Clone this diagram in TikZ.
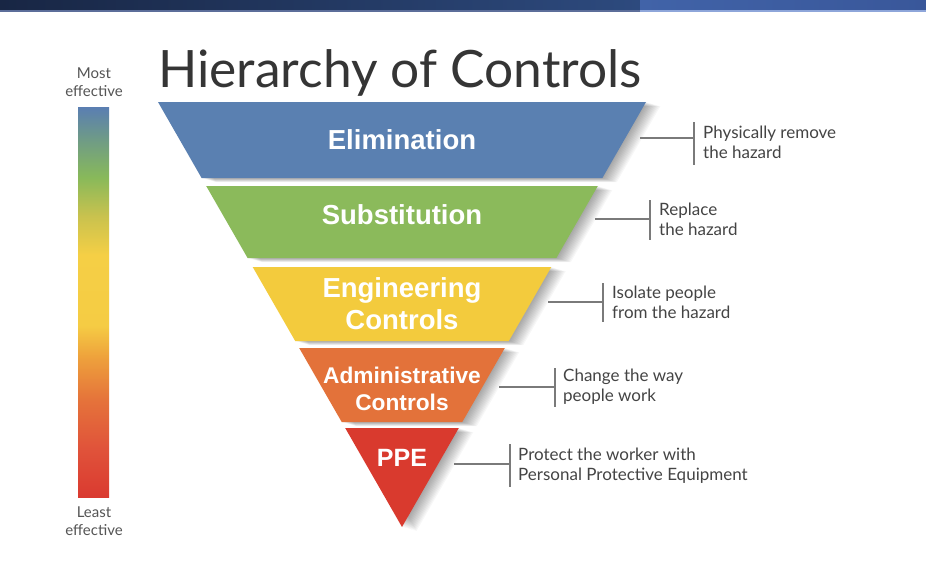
\documentclass[tikz,border=0pt]{standalone}
\usepackage{fontspec}
\setmainfont{Lato}
\newfontfamily\bandfont{Liberation Sans}
\definecolor{navyL}{HTML}{182644}
\definecolor{navyR}{HTML}{2D4A7E}
\definecolor{blueL}{HTML}{4163A8}
\definecolor{blueR}{HTML}{39579A}
\definecolor{lineA}{HTML}{5C6E9A}
\definecolor{lineB}{HTML}{8EA6DA}
\definecolor{bandblue}{HTML}{5A80B1}
\definecolor{bandgreen}{HTML}{8BBA5B}
\definecolor{bandyellow}{HTML}{F3CB3D}
\definecolor{bandorange}{HTML}{E3723A}
\definecolor{bandred}{HTML}{D93A2E}
\definecolor{titlecol}{HTML}{353535}
\definecolor{desccol}{HTML}{444444}
\definecolor{effcol}{HTML}{555555}
\definecolor{conncol}{HTML}{7A7A7A}
\definecolor{s0}{HTML}{DA3A30}
\definecolor{s1}{HTML}{E0523A}
\definecolor{s2}{HTML}{E5733A}
\definecolor{s3}{HTML}{EEA23C}
\definecolor{s4}{HTML}{F5CC44}
\definecolor{s5}{HTML}{F5CF45}
\definecolor{s6}{HTML}{C9C24E}
\definecolor{s7}{HTML}{88B95A}
\definecolor{s8}{HTML}{6E9A88}
\definecolor{s9}{HTML}{5A7EB2}
\pgfdeclareverticalshading{effbar}{100bp}{color(0bp)=(s0); color(25bp)=(s0); color(31bp)=(s1); color(37.5bp)=(s2); color(43bp)=(s3); color(47bp)=(s4); color(56bp)=(s5); color(61bp)=(s6); color(66bp)=(s7); color(71bp)=(s8); color(75bp)=(s9); color(100bp)=(s9)}
\newcommand\hocband[2]{%
  \foreach \k in {1,...,12}{\fill[black, opacity=0.03, xshift=1.2*\k pt, yshift=-0.35*\k pt] #1;}%
  \fill[#2] #1;}
\begin{document}
\begin{tikzpicture}[x=1pt,y=-1pt,
  bandlabel/.style={text=white, font=\bandfont\bfseries\fontsize{27.5}{32}\selectfont, align=center, inner sep=0pt},
  desc/.style={text=desccol, font=\fontsize{17}{20}\selectfont, align=left, anchor=west, inner sep=0pt},
  efflabel/.style={text=effcol, font=\fontsize{15}{18}\selectfont, align=center, inner sep=0pt},
  conn/.style={draw=conncol, line width=1.3pt}]
\useasboundingbox (0,0) rectangle (926,568);
\fill[white] (0,0) rectangle (926,568);
% top bar
\shade[left color=navyL, right color=navyR] (0,0) rectangle (640,10);
\shade[left color=blueL, right color=blueR] (640,0) rectangle (926,10);
\fill[lineA] (0,10) rectangle (640,11.5);
\fill[lineB] (640,10) rectangle (926,11.5);
% title
\node[text=titlecol, font=\fontsize{51.5}{56}\selectfont, anchor=base west, inner sep=0pt] (title) at (158,87) {Hierarchy of Controls};
% effectiveness bar
\shade[shading=effbar] (78,107) rectangle (109,497);
\node[efflabel] (most) at (94,82) {Most\\effective};
\node[efflabel] (least) at (94,521) {Least\\effective};
% bands
\hocband{(158,102) -- (646,102) -- (602.4,178) -- (201.6,178) -- cycle}{bandblue}
\hocband{(206.2,186) -- (597.8,186) -- (556.4,258) -- (247.6,258) -- cycle}{bandgreen}
\hocband{(252.7,267) -- (551.3,267) -- (508.8,341) -- (295.2,341) -- cycle}{bandyellow}
\hocband{(299.2,348) -- (504.8,348) -- (462.3,422) -- (341.7,422) -- cycle}{bandorange}
\hocband{(345.2,428) -- (458.8,428) -- (402,527) -- cycle}{bandred}
% band labels
\node[bandlabel] (b1) at (402,140) {Elimination};
\node[bandlabel] (b2) at (402,215) {Substitution};
\node[bandlabel] (b3) at (402,304) {Engineering\\Controls};
\node[bandlabel, font=\bandfont\bfseries\fontsize{22.7}{27}\selectfont] (b4) at (402,389) {Administrative\\Controls};
\node[bandlabel, font=\bandfont\bfseries\fontsize{25}{30}\selectfont] (b5) at (402,458) {PPE};
% descriptions
\node[desc] (d1) at (703,142) {Physically remove\\the hazard};
\node[desc] (d2) at (659,219) {Replace\\the hazard};
\node[desc] (d3) at (612,302) {Isolate people\\from the hazard};
\node[desc] (d4) at (563,387) {Change the way\\people work};
\node[desc] (d5) at (518,466) {Protect the worker with\\Personal Protective Equipment};
% connectors
\coordinate (c1) at (640,138); \coordinate (j1) at (694,138);
\coordinate (t1) at (694,122); \coordinate (u1) at (694,165);
\coordinate (c2) at (595,219); \coordinate (j2) at (650,219);
\coordinate (t2) at (650,200); \coordinate (u2) at (650,240);
\coordinate (c3) at (548,302); \coordinate (j3) at (603,302);
\coordinate (t3) at (603,283); \coordinate (u3) at (603,322);
\coordinate (c4) at (499,387); \coordinate (j4) at (555,387);
\coordinate (t4) at (555,368); \coordinate (u4) at (555,407);
\coordinate (c5) at (454,464); \coordinate (j5) at (510,464);
\coordinate (t5) at (510,444); \coordinate (u5) at (510,487);
\foreach \i in {1,...,5}{
  \draw[conn] (c\i) -- (j\i);
  \draw[conn] (t\i) -- (u\i);
}
\end{tikzpicture}
\end{document}
